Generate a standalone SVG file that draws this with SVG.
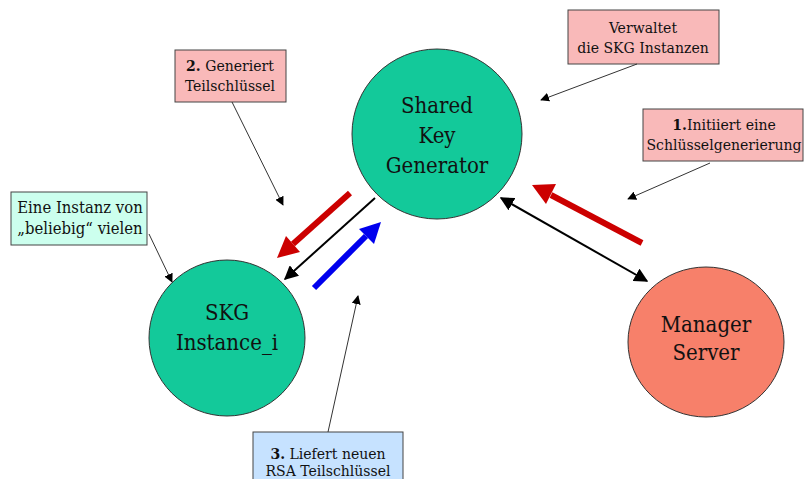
<svg xmlns="http://www.w3.org/2000/svg" width="805" height="479" viewBox="0 0 805 479">
<defs>
<style>
.node{stroke:#333;stroke-width:1}
.ntext{font-family:'DejaVu Serif Condensed','DejaVu Serif',serif;font-stretch:condensed;font-size:22px;fill:#111;text-anchor:middle}
.lbl{stroke:#444;stroke-width:1}
.ltext{font-family:'DejaVu Serif Condensed','DejaVu Serif',serif;font-stretch:condensed;font-size:15.6px;fill:#111;text-anchor:middle}
.ptr{stroke:#333;stroke-width:1;fill:none}
.thin{stroke:#000;stroke-width:2;fill:none}
</style>
<marker id="ahb" viewBox="0 0 10 10" refX="9" refY="5" markerWidth="7" markerHeight="7" orient="auto-start-reverse"><path d="M0,0L10,5L0,10z" fill="#000"/></marker>
<marker id="ptrh" viewBox="0 0 10 10" refX="9" refY="5" markerWidth="9" markerHeight="9" orient="auto" markerUnits="userSpaceOnUse"><path d="M0,0L10,5L0,10z" fill="#000"/></marker>
</defs>
<rect width="805" height="479" fill="#fff"/>

<g id="skg-gen">
<circle class="node" cx="437" cy="134" r="85" fill="#13C99A"/>
<text class="ntext" x="437" y="113">Shared</text>
<text class="ntext" x="437" y="143">Key</text>
<text class="ntext" x="437" y="173">Generator</text>
</g>
<g id="skg-inst">
<circle class="node" cx="227" cy="338" r="78" fill="#13C99A"/>
<text class="ntext" x="227" y="320">SKG</text>
<text class="ntext" x="227" y="350">Instance_i</text>
</g>
<g id="manager">
<ellipse class="node" cx="706" cy="342" rx="78" ry="75" fill="#F7806A"/>
<text class="ntext" x="706" y="332">Manager</text>
<text class="ntext" x="706" y="360">Server</text>
</g>

<g id="connectors">
<line class="thin" x1="375" y1="198" x2="285" y2="279" marker-end="url(#ahb)"/>
<line class="thin" x1="501" y1="198" x2="647" y2="281" marker-start="url(#ahb)" marker-end="url(#ahb)"/>
<g id="red-left">
<line x1="350" y1="193" x2="293" y2="244" stroke="#CC0000" stroke-width="6"/>
<polygon points="277,258 286,236 300,252" fill="#CC0000"/>
</g>
<g id="red-right">
<line x1="642" y1="243" x2="551" y2="195" stroke="#CC0000" stroke-width="6"/>
<polygon points="532,185 556,184 546,204" fill="#CC0000"/>
</g>
<g id="blue-up">
<line x1="314" y1="288" x2="366" y2="236" stroke="#0000EE" stroke-width="6"/>
<polygon points="381,222 374,244 359,229" fill="#0000EE"/>
</g>
</g>

<g id="lbl-verwaltet">
<rect class="lbl" x="568" y="10" width="151" height="54" fill="#F9B9B9"/>
<text class="ltext" x="643" y="33">Verwaltet</text>
<text class="ltext" x="643" y="53">die SKG Instanzen</text>
<line class="ptr" x1="637" y1="64" x2="541" y2="100" marker-end="url(#ptrh)"/>
</g>
<g id="lbl-generiert">
<rect class="lbl" x="175" y="50" width="111" height="52" fill="#F9B9B9"/>
<text class="ltext" x="230" y="71"><tspan font-weight="bold">2.</tspan> Generiert</text>
<text class="ltext" x="230" y="91">Teilschlüssel</text>
<line class="ptr" x1="232" y1="102" x2="283" y2="205" marker-end="url(#ptrh)"/>
</g>
<g id="lbl-initiiert">
<rect class="lbl" x="643" y="109" width="160" height="52" fill="#F9B9B9"/>
<text class="ltext" x="724" y="130" font-size="15.3"><tspan font-weight="bold">1.</tspan>Initiiert eine</text>
<text class="ltext" x="724" y="150" font-size="15.3">Schlüsselgenerierung</text>
<line class="ptr" x1="710" y1="163" x2="628" y2="199" marker-end="url(#ptrh)"/>
</g>
<g id="lbl-instanz">
<rect class="lbl" x="11" y="192" width="136" height="53" fill="#CCFFEE"/>
<text class="ltext" x="80" y="213" style="font-size:16.5px">Eine Instanz von</text>
<text class="ltext" x="80" y="234" style="font-size:16.5px">„beliebig“ vielen</text>
<line class="ptr" x1="149" y1="234" x2="172" y2="282" marker-end="url(#ptrh)"/>
</g>
<g id="lbl-liefert">
<rect class="lbl" x="253" y="432" width="150" height="52" fill="#C6E2FF"/>
<text class="ltext" x="328" y="459"><tspan font-weight="bold">3.</tspan> Liefert neuen</text>
<text class="ltext" x="328" y="476">RSA Teilschlüssel</text>
<line class="ptr" x1="328" y1="432" x2="358" y2="296" marker-end="url(#ptrh)"/>
</g>
</svg>
